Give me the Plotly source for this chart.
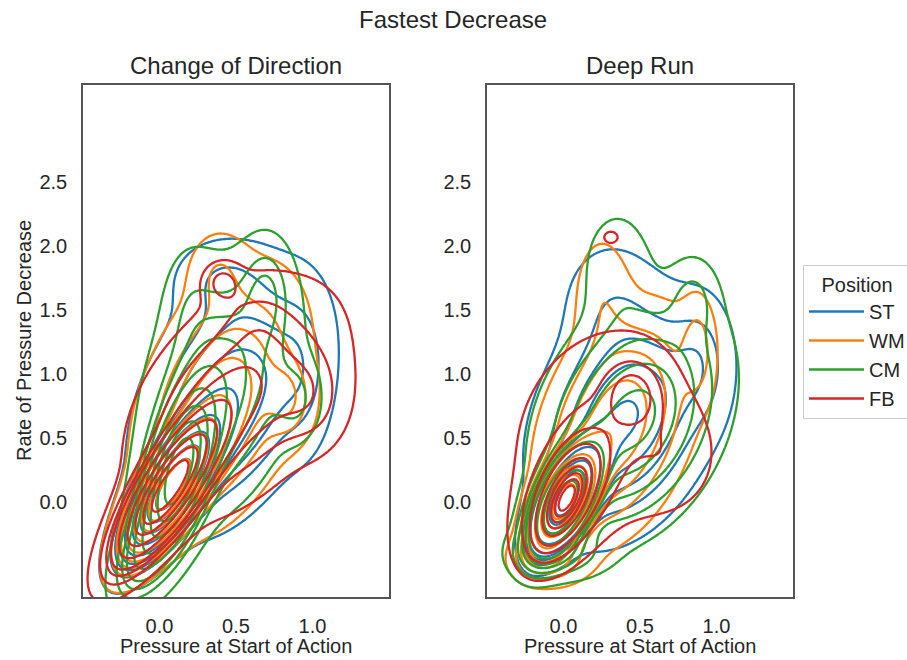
import numpy as np
import plotly.graph_objects as go

positions = ["ST", "WM", "CM", "FB"]
colors = ["#1f77b4", "#ff7f0e", "#2ca02c", "#d62728"]
panel_titles = ["Change of Direction", "Deep Run"]
x_ticks = [0.0, 0.5, 1.0]
y_ticks = [0.0, 0.5, 1.0, 1.5, 2.0, 2.5]

# Density estimates, as mixtures of components:
# (centre x, centre y, spread x, spread y, correlation, weight)
cod_st = [(0.08, 0.12, 0.17, 0.30, 0.75, 0.50), (0.45, 0.80, 0.33, 0.55, 0.40, 0.44),
          (0.95, 1.00, 0.12, 0.40, 0.00, 0.03), (0.40, 1.75, 0.20, 0.20, 0.00, 0.03)]
cod_wm = [(0.08, 0.12, 0.17, 0.30, 0.75, 0.52), (0.40, 0.80, 0.30, 0.55, 0.40, 0.43),
          (0.85, 0.80, 0.10, 0.20, 0.00, 0.025), (0.38, 1.80, 0.12, 0.20, 0.00, 0.02)]
cod_cm = [(0.12, 0.22, 0.14, 0.38, 0.55, 0.48), (0.40, 0.90, 0.28, 0.55, 0.30, 0.38),
          (-0.12, -0.40, 0.12, 0.25, 0.50, 0.06), (0.70, 1.65, 0.10, 0.25, 0.00, 0.03),
          (0.20, 1.60, 0.12, 0.30, 0.00, 0.02), (0.90, 0.80, 0.10, 0.20, 0.00, 0.02)]
cod_fb = [(0.06, 0.11, 0.19, 0.32, 0.80, 0.55), (0.50, 0.80, 0.38, 0.50, 0.45, 0.37),
          (0.41, 1.72, 0.08, 0.10, 0.00, 0.008), (1.00, 0.80, 0.15, 0.25, 0.00, 0.03),
          (0.62, 1.45, 0.15, 0.20, 0.00, 0.012)]

dr_st = [(0.02, 0.03, 0.11, 0.20, 0.60, 0.47), (0.40, 0.65, 0.32, 0.50, 0.30, 0.46),
         (0.30, 1.60, 0.20, 0.30, 0.00, 0.04), (0.90, 1.10, 0.12, 0.30, 0.00, 0.03)]
dr_wm = [(0.00, 0.00, 0.11, 0.20, 0.55, 0.47), (0.35, 0.60, 0.28, 0.50, 0.35, 0.42),
         (0.25, 1.65, 0.12, 0.30, 0.00, 0.03), (0.88, 1.20, 0.07, 0.25, 0.00, 0.02),
         (-0.10, -0.45, 0.15, 0.12, 0.00, 0.03)]
dr_cm = [(0.00, 0.00, 0.12, 0.22, 0.55, 0.42), (0.45, 0.65, 0.33, 0.50, 0.30, 0.48),
         (0.35, 1.85, 0.15, 0.30, 0.00, 0.03), (0.85, 1.60, 0.10, 0.20, 0.00, 0.015),
         (-0.05, -0.40, 0.18, 0.12, 0.00, 0.03)]
dr_fb = [(0.02, 0.03, 0.08, 0.15, 0.60, 0.45), (0.03, 0.08, 0.15, 0.27, 0.50, 0.25),
         (0.45, 0.82, 0.10, 0.15, 0.00, 0.05), (0.25, 0.55, 0.35, 0.50, 0.20, 0.19),
         (0.70, 0.35, 0.18, 0.25, 0.00, 0.03), (0.31, 2.07, 0.03, 0.03, 0.00, 0.0008)]

panels = [[cod_st, cod_wm, cod_cm, cod_fb], [dr_st, dr_wm, dr_cm, dr_fb]]

gx = np.linspace(-1.2, 2.2, 341)
gy = np.linspace(-1.8, 4.0, 481)
GX, GY = np.meshgrid(gx, gy)


def density(comps):
    z = np.zeros_like(GX)
    for cx, cy, sx, sy, r, w in comps:
        dx = (GX - cx) / sx
        dy = (GY - cy) / sy
        q = (dx * dx - 2 * r * dx * dy + dy * dy) / (1 - r * r)
        z += w * np.exp(-0.5 * q) / (2 * np.pi * sx * sy * np.sqrt(1 - r * r))
    return z


def iso_proportion(z):
    v = np.sort(z.ravel())
    c = np.cumsum(v)
    c /= c[-1]
    return np.interp(z, v, c)


fig = go.Figure()
levels = np.linspace(0.05, 1, 10)
for p, series in enumerate(panels):
    xa = "x" if p == 0 else "x2"
    ya = "y" if p == 0 else "y2"
    for name, col, comps in zip(positions, colors, series):
        fig.add_trace(go.Contour(
            x=gx, y=gy, z=iso_proportion(density(comps)),
            contours=dict(start=levels[0], end=levels[-2], size=levels[1] - levels[0], coloring="none"),
            line=dict(color=col, width=2.3, smoothing=1.0),
            showscale=False, showlegend=False, hoverinfo="skip",
            xaxis=xa, yaxis=ya))

for name, col in zip(positions, colors):
    fig.add_trace(go.Scatter(x=[None], y=[None], mode="lines", name=name,
                             line=dict(color=col, width=2.5), xaxis="x2", yaxis="y2"))

W, H = 907, 660
font = "Liberation Sans, Arial, sans-serif"
txt = "#262626"
axis_common = dict(showgrid=False, zeroline=False, showline=True, mirror=True,
                   linecolor="#555555", linewidth=1.5, ticks="", ticklabelstandoff=10,
                   tickfont=dict(size=20, color=txt, family=font), tickformat=".1f")

fig.update_layout(
    width=W, height=H, paper_bgcolor="white", plot_bgcolor="white",
    margin=dict(l=0, r=0, t=0, b=0, autoexpand=False),
    font=dict(family=font, color=txt),
    xaxis=dict(domain=[83 / W, 389 / W], range=[-0.5, 1.5], tickvals=x_ticks, anchor="y", **axis_common),
    yaxis=dict(domain=[63 / H, 575 / H], range=[-0.74, 3.26], tickvals=y_ticks, anchor="x", **axis_common),
    xaxis2=dict(domain=[487 / W, 793 / W], range=[-0.5, 1.5], tickvals=x_ticks, anchor="y2", **axis_common),
    yaxis2=dict(domain=[63 / H, 575 / H], range=[-0.74, 3.26], tickvals=y_ticks, anchor="x2", **axis_common),
    legend=dict(x=803 / W, y=(H - 265) / H, xanchor="left", yanchor="top", itemwidth=55,
                bordercolor="#cccccc", borderwidth=1, bgcolor="white",
                font=dict(size=20, color=txt, family=font),
                title=dict(text="Position", side="top center", font=dict(size=20, color=txt, family=font))),
    showlegend=True,
)

ann = [
    dict(text="Fastest Decrease", x=453 / W, y=1 - 20 / H, size=24),
    dict(text=panel_titles[0], x=236 / W, y=1 - 65 / H, size=24),
    dict(text=panel_titles[1], x=640 / W, y=1 - 65 / H, size=24),
    dict(text="Pressure at Start of Action", x=236 / W, y=1 - 646 / H, size=20),
    dict(text="Pressure at Start of Action", x=640 / W, y=1 - 646 / H, size=20),
]
for a in ann:
    fig.add_annotation(text=a["text"], x=a["x"], y=a["y"], xref="paper", yref="paper",
                       showarrow=False, xanchor="center", yanchor="middle",
                       font=dict(size=a["size"], color=txt, family=font))
fig.add_annotation(text="Rate of Pressure Decrease", x=24 / W, y=1 - 341 / H, xref="paper", yref="paper",
                   showarrow=False, textangle=-90, xanchor="center", yanchor="middle",
                   font=dict(size=20, color=txt, family=font))

fig.write_html("out.html", config={"displayModeBar": False},
               post_script="document.body.style.margin='0px';")
